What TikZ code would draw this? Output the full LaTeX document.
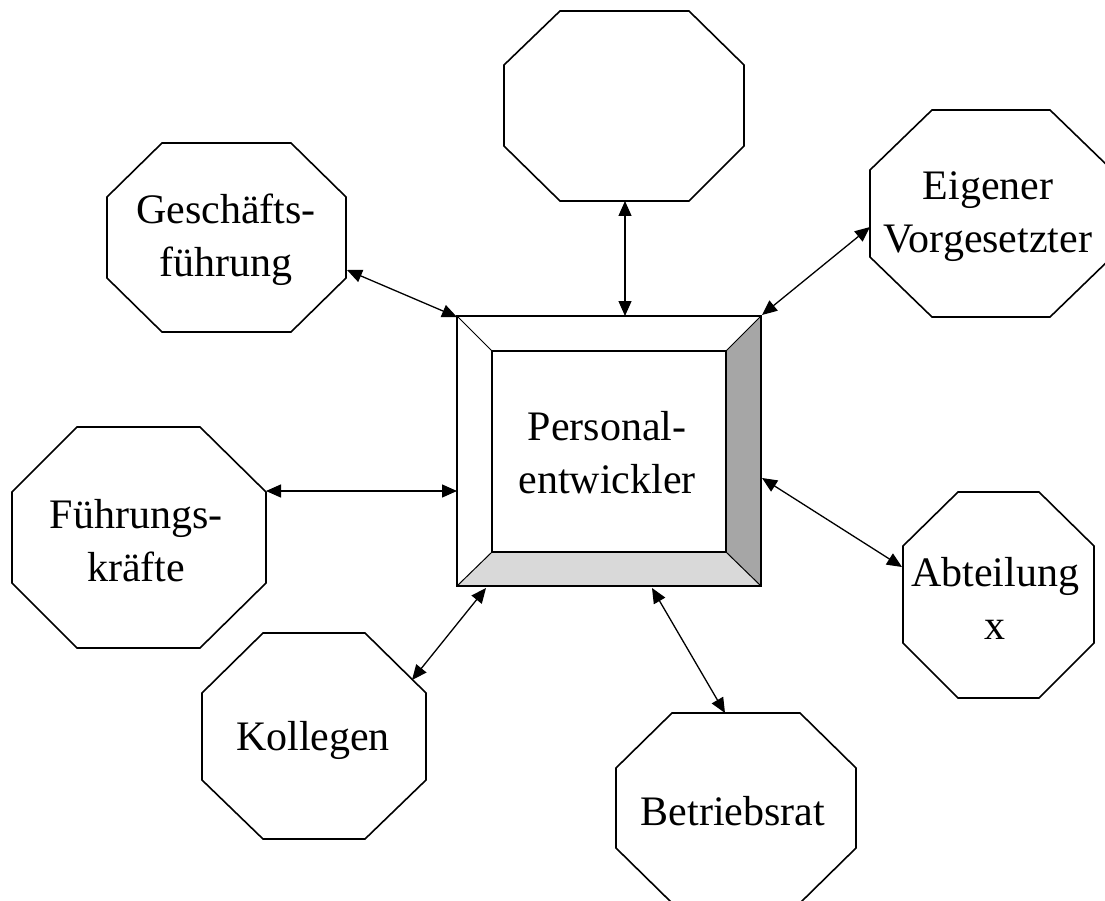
\documentclass[tikz,border=0pt]{standalone}
\usepackage{fontspec}
\setmainfont{Liberation Serif}
\usetikzlibrary{arrows.meta}
\newcommand\octo[8]{\draw[octline] (#2,#5)--(#3,#5)--(#4,#6)--(#4,#7)--(#3,#8)--(#2,#8)--(#1,#7)--(#1,#6)--cycle;}
\tikzset{
  octline/.style={line width=1.6pt, draw=black, line join=miter},
  lbl/.style={align=center, inner sep=0pt, font=\fontsize{42}{53}\selectfont},
  link/.style={line width=1.3pt, {Triangle[length=15pt,width=13pt]}-{Triangle[length=15pt,width=13pt]}},
  bevel/.style={line width=1.6pt, draw=black}
}
\begin{document}
\begin{tikzpicture}[x=1pt,y=-1pt]
\useasboundingbox[fill=white] (0,0) rectangle (1105,901);
% octagons
\octo{504}{560}{689}{744}{11}{65}{146}{201}
\octo{107}{162}{291}{346}{143}{197}{278}{332}
\octo{870}{932}{1050}{1112}{110}{170}{257}{317}
\octo{12}{77}{200}{266}{427}{492}{583}{648}
\octo{202}{263}{365}{426}{633}{693}{780}{839}
\octo{616}{672}{800}{856}{713}{768}{848}{903}
\octo{903}{958}{1039}{1094}{492}{546}{643}{698}
% central framed box
\fill[white] (457,316) rectangle (761,586);
\fill[black!35] (726,351) -- (761,316) -- (761,586) -- (726,552) -- cycle;
\fill[black!15] (492,552) -- (726,552) -- (761,586) -- (457,586) -- cycle;
\draw[bevel] (457,316) rectangle (761,586);
\draw[bevel] (492,351) rectangle (726,552);
\draw[line width=1pt] (457,316) -- (492,351);
\draw[line width=1pt] (761,316) -- (726,351);
\draw[line width=1pt] (457,586) -- (492,552);
\draw[line width=1pt] (761,586) -- (726,552);
% labels
\node[lbl] (pe) at (607,453) {Personal-\\entwickler};
\node[lbl] (top) at (624,106) {};
\node[lbl] (gf) at (226,240) {Gesch\"afts-\\f\"uhrung};
\node[lbl] (ev) at (988,217) {Eigener\\Vorgesetzter};
\node[lbl] (fk) at (136,541) {F\"uhrungs-\\kr\"afte};
\node[lbl] (ko) at (313,740) {Kollegen};
\node[lbl] (br) at (733,811) {Betriebsrat};
\node[lbl] (ab) at (995,598) {Abteilung\\x};
% connector end points
\coordinate (pTop) at (625,316);
\coordinate (tTop) at (625,201);
\coordinate (pGf) at (457,317);
\coordinate (tGf) at (347,270);
\coordinate (pEv) at (762,315);
\coordinate (tEv) at (870,227);
\coordinate (pFk) at (457,491);
\coordinate (tFk) at (266,491);
\coordinate (pKo) at (486,588);
\coordinate (tKo) at (412,680);
\coordinate (pBr) at (652,588);
\coordinate (tBr) at (725,713);
\coordinate (pAb) at (762,478);
\coordinate (tAb) at (902,567);
% connectors
\draw[link] (tTop) -- (pTop);
\draw[link] (tGf) -- (pGf);
\draw[link] (tEv) -- (pEv);
\draw[link] (tFk) -- (pFk);
\draw[link] (tKo) -- (pKo);
\draw[link] (tBr) -- (pBr);
\draw[link] (tAb) -- (pAb);
\end{tikzpicture}
\end{document}
